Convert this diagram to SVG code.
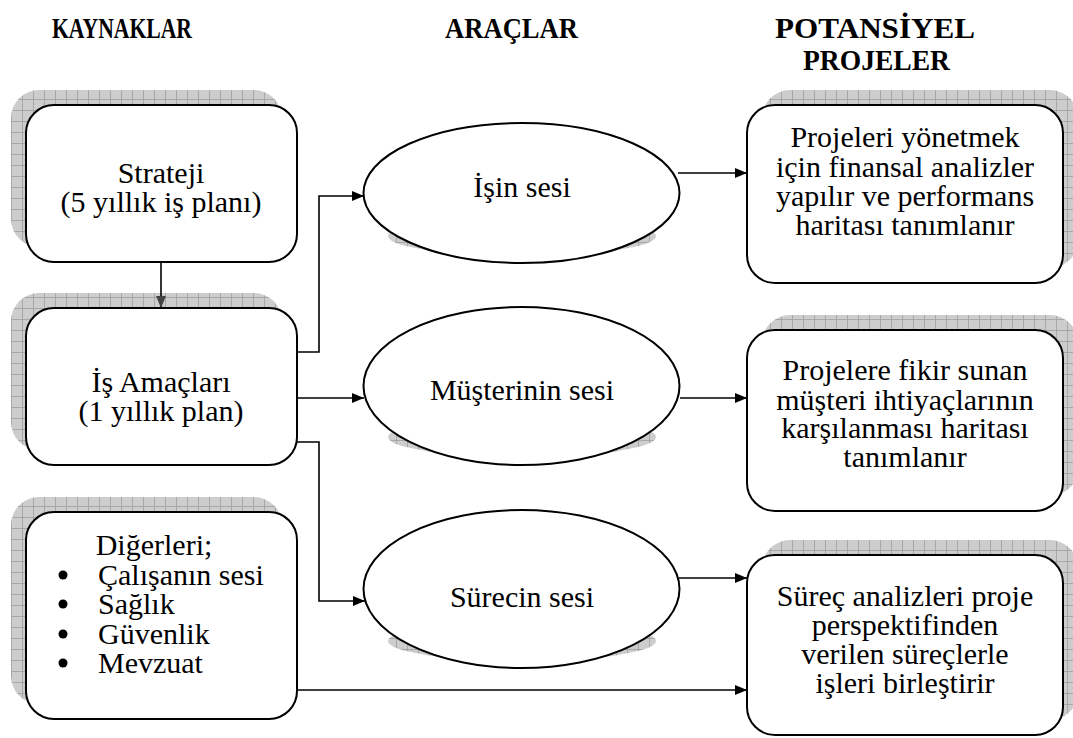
<svg xmlns="http://www.w3.org/2000/svg" width="1073" height="738" viewBox="0 0 1073 738">
  <defs>
    <!-- grid texture used for the drop shadows -->
    <pattern id="grid" width="11" height="11" patternUnits="userSpaceOnUse">
      <rect width="11" height="11" fill="#cdcdcd"/>
      <path d="M0,0.5 H11 M0.5,0 V11" stroke="#9e9e9e" stroke-width="0.8" fill="none"/>
    </pattern>
    <marker id="arrow" viewBox="0 0 12 10" refX="12" refY="5" markerWidth="12" markerHeight="10" markerUnits="userSpaceOnUse" orient="auto">
      <path d="M0,0 L12,5 L0,10 Z" fill="#000"/>
    </marker>
    <marker id="arrowGray" viewBox="0 0 12 10" refX="12" refY="5" markerWidth="12" markerHeight="10" markerUnits="userSpaceOnUse" orient="auto">
      <path d="M0,0 L12,5 L0,10 Z" fill="#444"/>
    </marker>
  </defs>
  <style>
    .shadow { fill: url(#grid); }
    .box { fill: #fff; stroke: #000; stroke-width: 2; }
    .txt { font-family: "Liberation Serif", "Times New Roman", serif; font-size: 30px; fill: #000; text-anchor: middle; }
    .lft { text-anchor: start; }
    .head { font-family: "Liberation Serif", "Times New Roman", serif; font-size: 29px; font-weight: bold; fill: #000; }
    .conn { fill: none; stroke: #000; stroke-width: 1.6; }
  </style>

  <!-- column headings -->
  <g id="headings">
    <text class="head" x="52" y="38" textLength="140" lengthAdjust="spacingAndGlyphs">KAYNAKLAR</text>
    <text class="head" x="445" y="38" textLength="133" lengthAdjust="spacingAndGlyphs">ARAÇLAR</text>
    <text class="head" x="775" y="38" textLength="200" lengthAdjust="spacingAndGlyphs">POTANSİYEL</text>
    <text class="head" x="803" y="70" textLength="147" lengthAdjust="spacingAndGlyphs">PROJELER</text>
  </g>

  <!-- sources -->
  <g id="strateji">
    <rect class="shadow" x="11" y="90" width="271" height="157" rx="28"/>
    <rect class="box" x="26" y="105" width="271" height="157" rx="28"/>
    <text class="txt" x="161" y="183">Strateji</text>
    <text class="txt" x="161" y="212">(5 yıllık iş planı)</text>
  </g>
  <g id="is-amaclari">
    <rect class="shadow" x="11" y="293" width="271" height="157" rx="28"/>
    <rect class="box" x="26" y="308" width="271" height="157" rx="28"/>
    <text class="txt" x="161" y="392">İş Amaçları</text>
    <text class="txt" x="161" y="421">(1 yıllık plan)</text>
  </g>
  <g id="digerleri">
    <rect class="shadow" x="11" y="497" width="271" height="207" rx="28"/>
    <rect class="box" x="26" y="512" width="271" height="207" rx="28"/>
    <text class="txt" x="154" y="555">Diğerleri;</text>
    <circle cx="63" cy="575" r="4.5"/>
    <circle cx="63" cy="604" r="4.5"/>
    <circle cx="63" cy="634" r="4.5"/>
    <circle cx="63" cy="663" r="4.5"/>
    <text class="txt lft" x="98" y="585">Çalışanın sesi</text>
    <text class="txt lft" x="98" y="614">Sağlık</text>
    <text class="txt lft" x="98" y="644">Güvenlik</text>
    <text class="txt lft" x="98" y="673">Mevzuat</text>
  </g>

  <!-- tools -->
  <g id="isin-sesi">
    <ellipse class="shadow" cx="522" cy="236" rx="134" ry="20"/>
    <ellipse class="box" cx="521.5" cy="193" rx="158" ry="70"/>
    <text class="txt" x="522" y="197">İşin sesi</text>
  </g>
  <g id="musterinin-sesi">
    <ellipse class="shadow" cx="522" cy="437" rx="134" ry="20"/>
    <ellipse class="box" cx="521.5" cy="386" rx="158" ry="79"/>
    <text class="txt" x="522" y="400">Müşterinin sesi</text>
  </g>
  <g id="surecin-sesi">
    <ellipse class="shadow" cx="522" cy="641" rx="134" ry="20"/>
    <ellipse class="box" cx="521.5" cy="589" rx="158" ry="79"/>
    <text class="txt" x="522" y="607">Sürecin sesi</text>
  </g>

  <!-- potential projects -->
  <g id="finansal">
    <rect class="shadow" x="762" y="90" width="316" height="178" rx="28"/>
    <rect class="box" x="747" y="105" width="316" height="178" rx="28"/>
    <text class="txt" x="905" y="147">Projeleri yönetmek</text>
    <text class="txt" x="905" y="177">için finansal analizler</text>
    <text class="txt" x="905" y="206">yapılır ve performans</text>
    <text class="txt" x="905" y="235">haritası tanımlanır</text>
  </g>
  <g id="musteri-ihtiyaclari">
    <rect class="shadow" x="762" y="315" width="316" height="181" rx="28"/>
    <rect class="box" x="747" y="330" width="316" height="181" rx="28"/>
    <text class="txt" x="905" y="380">Projelere fikir sunan</text>
    <text class="txt" x="905" y="410">müşteri ihtiyaçlarının</text>
    <text class="txt" x="905" y="438">karşılanması haritası</text>
    <text class="txt" x="905" y="467">tanımlanır</text>
  </g>
  <g id="surec-analizleri">
    <rect class="shadow" x="762" y="540" width="316" height="180" rx="28"/>
    <rect class="box" x="747" y="555" width="316" height="180" rx="28"/>
    <text class="txt" x="905" y="606">Süreç analizleri proje</text>
    <text class="txt" x="905" y="635">perspektifinden</text>
    <text class="txt" x="905" y="664">verilen süreçlerle</text>
    <text class="txt" x="905" y="693">işleri birleştirir</text>
  </g>

  <!-- connectors -->
  <g id="connectors">
    <path class="conn" d="M161,262 V308" marker-end="url(#arrowGray)"/>
    <path class="conn" d="M297,352 H319 V196 H364" marker-end="url(#arrow)"/>
    <path class="conn" d="M297,398 H364" marker-end="url(#arrow)"/>
    <path class="conn" d="M297,442 H319 V601 H365" marker-end="url(#arrow)"/>
    <path class="conn" d="M678,173 H747" marker-end="url(#arrow)"/>
    <path class="conn" d="M680,398 H747" marker-end="url(#arrow)"/>
    <path class="conn" d="M679,578 H747" marker-end="url(#arrow)"/>
    <path class="conn" d="M297,690 H747" marker-end="url(#arrow)"/>
  </g>
</svg>
